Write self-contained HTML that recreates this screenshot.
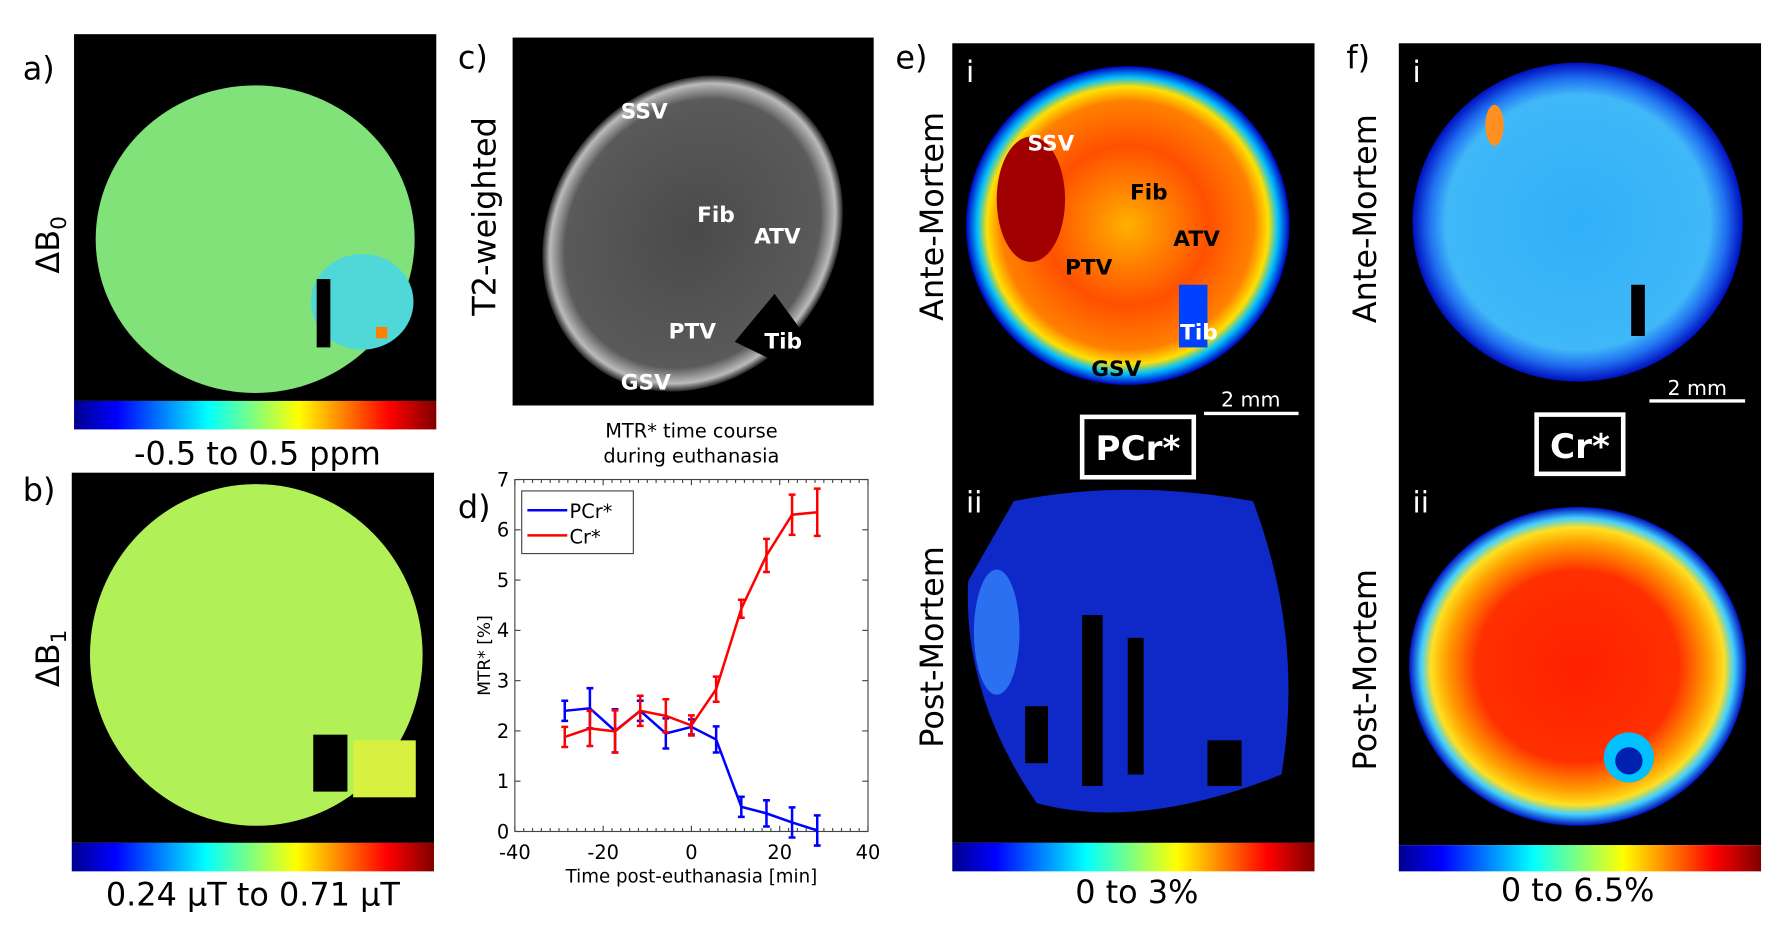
<!DOCTYPE html>
<html><head><meta charset="utf-8">
<style>
html,body{margin:0;padding:0;background:#fff;width:1777px;height:934px;overflow:hidden}
#wrap{position:absolute;left:0;top:0;width:1560px;height:820px;transform:scale(1.13910,1.13902);transform-origin:0 0}
svg text{font-family:"DejaVu Sans","Liberation Sans",sans-serif}
</style></head><body>
<div id="wrap">
<svg id="fig" width="1560" height="820" viewBox="0 0 1560 820" xmlns="http://www.w3.org/2000/svg">
<defs>
<linearGradient id="jet" x1="0" x2="1" y1="0" y2="0">
<stop offset="0" stop-color="#00008f"/><stop offset="0.12" stop-color="#0000ff"/>
<stop offset="0.37" stop-color="#00ffff"/><stop offset="0.62" stop-color="#ffff00"/>
<stop offset="0.87" stop-color="#ff0000"/><stop offset="1" stop-color="#800000"/>
</linearGradient>
<radialGradient id="gE1" cx="0.5" cy="0.5" r="0.5">
<stop offset="0" stop-color="#ffb000"/><stop offset="0.5" stop-color="#ff5000"/><stop offset="0.78" stop-color="#ff8000"/><stop offset="0.87" stop-color="#ffe000"/><stop offset="0.93" stop-color="#00c0ff"/><stop offset="1" stop-color="#0000c0"/>
</radialGradient>
<radialGradient id="gF1" cx="0.5" cy="0.5" r="0.5">
<stop offset="0" stop-color="#30b0f8"/><stop offset="0.8" stop-color="#40b8f8"/><stop offset="0.9" stop-color="#2070f0"/><stop offset="1" stop-color="#0010c0"/>
</radialGradient>
<radialGradient id="gF2" cx="0.5" cy="0.5" r="0.5">
<stop offset="0" stop-color="#ff2000"/><stop offset="0.6" stop-color="#ff3000"/><stop offset="0.78" stop-color="#ffa000"/><stop offset="0.87" stop-color="#ffe020"/><stop offset="0.93" stop-color="#40d0ff"/><stop offset="1" stop-color="#0010c0"/>
</radialGradient>
<radialGradient id="gC" cx="0.5" cy="0.5" r="0.5">
<stop offset="0" stop-color="#4a4a4a"/><stop offset="0.85" stop-color="#5a5a5a"/><stop offset="0.95" stop-color="#bbbbbb"/><stop offset="1" stop-color="#222"/>
</radialGradient>
</defs>

<!-- Panel a -->
<text x="20" y="70" font-size="28">a)</text>
<text transform="translate(52,215) rotate(-90)" font-size="28" text-anchor="middle">ΔB<tspan font-size="19" dy="6">0</tspan></text>
<rect x="65" y="30" width="318" height="322" fill="#000"/>
<ellipse cx="224" cy="210" rx="140" ry="135" fill="#82e27a"/>
<ellipse cx="318" cy="265" rx="45" ry="42" fill="#50d8d8"/>
<rect x="278" y="245" width="12" height="60" fill="#000"/>
<rect x="330" y="287" width="10" height="10" fill="#ff8000"/>
<rect x="65" y="352" width="318" height="25" fill="url(#jet)"/>
<text x="226" y="408" font-size="28" text-anchor="middle">-0.5 to 0.5 ppm</text>

<!-- Panel b -->
<text x="20" y="440" font-size="28">b)</text>
<text transform="translate(52,578) rotate(-90)" font-size="28" text-anchor="middle">ΔB<tspan font-size="19" dy="6">1</tspan></text>
<rect x="63" y="415" width="318" height="325" fill="#000"/>
<ellipse cx="225" cy="575" rx="146" ry="150" fill="#b2f058"/>
<rect x="275" y="645" width="30" height="50" fill="#000"/>
<rect x="310" y="650" width="55" height="50" fill="#d8f040"/>
<rect x="63" y="740" width="318" height="25" fill="url(#jet)"/>
<text x="222" y="795" font-size="28" text-anchor="middle">0.24 μT to 0.71 μT</text>

<!-- Panel c -->
<text x="402" y="60" font-size="28">c)</text>
<text transform="translate(435,190) rotate(-90)" font-size="28" text-anchor="middle">T2-weighted</text>
<rect x="450" y="33" width="317" height="323" fill="#000"/>
<ellipse cx="608" cy="205" rx="145" ry="125" transform="rotate(-55 608 205)" fill="url(#gC)"/>
<polygon points="645,300 680,258 718,310 690,322" fill="#000"/>
<g font-size="19" font-weight="bold" fill="#fff">
<text x="545" y="104">SSV</text>
<text x="612" y="195">Fib</text>
<text x="662" y="214">ATV</text>
<text x="587" y="297">PTV</text>
<text x="671" y="306">Tib</text>
<text x="545" y="342">GSV</text>
</g>
<text x="607" y="384" font-size="17" text-anchor="middle">MTR* time course</text>
<text x="607" y="406" font-size="17" text-anchor="middle">during euthanasia</text>

<!-- Panel d chart -->
<text x="402" y="455" font-size="28">d)</text>
<g id="chart"></g>

<!-- Panel e -->
<text x="786" y="60" font-size="28">e)</text>
<text transform="translate(828,190) rotate(-90)" font-size="28" text-anchor="middle">Ante-Mortem</text>
<text transform="translate(828,568) rotate(-90)" font-size="28" text-anchor="middle">Post-Mortem</text>
<rect x="836" y="38" width="318" height="702" fill="#000"/>
<ellipse cx="990" cy="198" rx="142" ry="140" fill="url(#gE1)"/>
<ellipse cx="905" cy="175" rx="30" ry="55" fill="#a00000"/>
<rect x="1035" y="250" width="25" height="55" fill="#0040ff"/>
<path d="M890,440 Q990,420 1100,440 Q1145,560 1125,680 Q1000,730 910,705 Q845,610 850,510 Z" fill="#0f28c8"/>
<ellipse cx="875" cy="555" rx="20" ry="55" fill="#2a70f0"/>
<rect x="950" y="540" width="18" height="150" fill="#000"/>
<rect x="990" y="560" width="14" height="120" fill="#000"/>
<rect x="900" y="620" width="20" height="50" fill="#000"/>
<rect x="1060" y="650" width="30" height="40" fill="#000"/>
<g font-size="19" font-weight="bold">
<text x="902" y="132" fill="#fff">SSV</text>
<text x="992" y="175">Fib</text>
<text x="1030" y="216">ATV</text>
<text x="935" y="241">PTV</text>
<text x="1036" y="298" fill="#fff">Tib</text>
<text x="958" y="330">GSV</text>
</g>
<text x="848" y="72" font-size="26" fill="#fff">i</text>
<text x="848" y="450" font-size="26" fill="#fff">ii</text>
<g>
<line x1="1057" y1="363" x2="1140" y2="363" stroke="#fff" stroke-width="3"/>
<text x="1098" y="357" font-size="18" fill="#fff" text-anchor="middle">2 mm</text></g>
<rect x="950" y="366" width="98" height="53" fill="#000" stroke="#fff" stroke-width="4"/>
<text x="999" y="404" font-size="30" font-weight="bold" fill="#fff" text-anchor="middle">PCr*</text>
<rect x="836" y="740" width="318" height="25" fill="url(#jet)"/>
<text x="998" y="793" font-size="28" text-anchor="middle">0 to 3%</text>

<!-- Panel f -->
<text x="1182" y="60" font-size="28">f)</text>
<text transform="translate(1208,192) rotate(-90)" font-size="28" text-anchor="middle">Ante-Mortem</text>
<text transform="translate(1208,588) rotate(-90)" font-size="28" text-anchor="middle">Post-Mortem</text>
<rect x="1228" y="38" width="318" height="704" fill="#000"/>
<ellipse cx="1385" cy="195" rx="145" ry="140" fill="url(#gF1)"/>
<rect x="1432" y="250" width="12" height="45" fill="#000"/>
<ellipse cx="1312" cy="110" rx="8" ry="18" fill="#ff9020"/>
<ellipse cx="1385" cy="585" rx="148" ry="140" fill="url(#gF2)"/>
<circle cx="1430" cy="665" r="22" fill="#00c0ff"/><circle cx="1430" cy="668" r="12" fill="#0020b0"/>
<text x="1240" y="72" font-size="26" fill="#fff">i</text>
<text x="1240" y="450" font-size="26" fill="#fff">ii</text>
<g>
<line x1="1448" y1="352" x2="1532" y2="352" stroke="#fff" stroke-width="3"/>
<text x="1490" y="347" font-size="18" fill="#fff" text-anchor="middle">2 mm</text></g>
<rect x="1349" y="364" width="76" height="52" fill="#000" stroke="#fff" stroke-width="4"/>
<text x="1387" y="402" font-size="30" font-weight="bold" fill="#fff" text-anchor="middle">Cr*</text>
<rect x="1228" y="742" width="318" height="23" fill="url(#jet)"/>
<text x="1385" y="791" font-size="28" text-anchor="middle">0 to 6.5%</text>
</svg>
</div>
<script>
const timeMin = [-28.7,-23,-17.3,-11.6,-5.8,0,5.6,11.3,17,22.8,28.5];
const pcrValues = [2.4,2.45,2.0,2.4,1.95,2.08,1.83,0.49,0.36,0.18,0.02];
const pcrErrors = [0.2,0.4,0.43,0.2,0.3,0.15,0.26,0.2,0.26,0.3,0.3];
const crValues = [1.88,2.05,1.99,2.4,2.3,2.11,2.83,4.43,5.49,6.3,6.35];
const crErrors = [0.2,0.35,0.42,0.3,0.33,0.2,0.25,0.18,0.33,0.4,0.47];
const xTicks = [-40,-20,0,20,40];
const yTicks = [0,1,2,3,4,5,6,7];
const NS='http://www.w3.org/2000/svg';
const L=452,R=762,T=421,B=730;
const xS=v=>L+(v+40)/80*(R-L);
const yS=v=>B-v/7*(B-T);
const g=document.getElementById('chart');
function mk(tag,attrs){const e=document.createElementNS(NS,tag);for(const k in attrs)e.setAttribute(k,attrs[k]);g.appendChild(e);return e;}
const frame=mk('rect',{x:L,y:T,width:R-L,height:B-T,fill:'#fff',stroke:'#444','stroke-width':1});


for(let v=-40;v<=40;v+=2){mk('line',{x1:xS(v),x2:xS(v),y1:B,y2:B-(v%20===0?5:3),stroke:'#444'});mk('line',{x1:xS(v),x2:xS(v),y1:T,y2:T+(v%20===0?5:3),stroke:'#444'});}
xTicks.forEach(v=>{const t=mk('text',{x:xS(v),y:B+24,'font-size':17,'text-anchor':'middle'});t.textContent=v;

});
yTicks.forEach(v=>{mk('line',{x1:L,x2:L+5,y1:yS(v),y2:yS(v),stroke:'#444'});mk('line',{x1:R,x2:R-5,y1:yS(v),y2:yS(v),stroke:'#444'});
const t=mk('text',{x:L-5,y:yS(v)+6,'font-size':17,'text-anchor':'end'});t.textContent=v;

});
const yl=mk('text',{transform:`translate(430,${(T+B)/2}) rotate(-90)`,'font-size':15,'text-anchor':'middle'});yl.textContent='MTR* [%]';


const xl=mk('text',{x:(L+R)/2,y:B+45,'font-size':16,'text-anchor':'middle'});xl.textContent='Time post-euthanasia [min]';


function series(vals,errs,col,name){
 errs.forEach((e,i)=>{const x=xS(timeMin[i]);
  const eb=mk('path',{d:`M${x},${yS(vals[i]-e)}V${yS(vals[i]+e)}M${x-3},${yS(vals[i]-e)}h6M${x-3},${yS(vals[i]+e)}h6`,stroke:col,'stroke-width':2.2,fill:'none'});
  
  });
 const p=mk('polyline',{points:vals.map((v,i)=>xS(timeMin[i])+','+yS(v)).join(' '),stroke:col,'stroke-width':2.2,fill:'none'});
 
 
}
series(pcrValues,pcrErrors,'#0000ff','pcr');
series(crValues,crErrors,'#ff0000','cr');
const lg=mk('rect',{x:458,y:431,width:98,height:55,fill:'#fff',stroke:'#444'});


mk('line',{x1:463,x2:498,y1:448,y2:448,stroke:'#0000ff','stroke-width':2.2});
mk('line',{x1:463,x2:498,y1:470,y2:470,stroke:'#ff0000','stroke-width':2.2});
const l1=mk('text',{x:500,y:455,'font-size':17});l1.textContent='PCr*';


const l2=mk('text',{x:500,y:477,'font-size':17});l2.textContent='Cr*';


</script>
</body></html>
